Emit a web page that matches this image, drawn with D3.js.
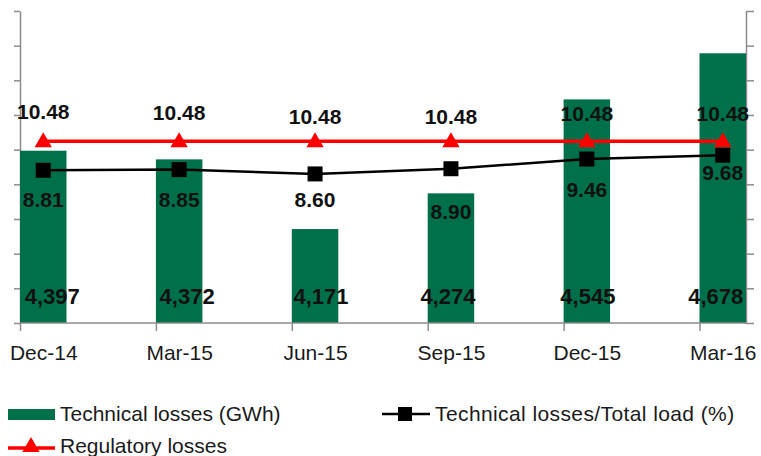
<!DOCTYPE html>
<html>
<head>
<meta charset="utf-8">
<script src="https://cdn.jsdelivr.net/npm/d3@7"></script>
<style>
  html, body { margin: 0; padding: 0; background: #fff; }
  svg { display: block; }
  text { font-family: "Liberation Sans", Arial, sans-serif; }
</style>
</head>
<body>
<svg id="chart" width="761" height="456"></svg>
<script>
// Quarterly figures
const quarters = ["Dec-14", "Mar-15", "Jun-15", "Sep-15", "Dec-15", "Mar-16"];
const technicalLossesGWh = [4397, 4372, 4171, 4274, 4545, 4678];
const lossShareOfLoad = [8.81, 8.85, 8.60, 8.90, 9.46, 9.68];
const regulatoryLosses = [10.48, 10.48, 10.48, 10.48, 10.48, 10.48];

// Axis tick values (no printed labels on the value axes)
const leftTicks = d3.range(3900, 4801, 100);
const rightTicks = d3.range(0, 19, 2);

// Label nudges (px) so that value labels sit clear of the marks
const barLabelDx = [9, 8, 6, -3, 1, -7];
const shareLabelDy = [37, 37, 33, 50, 38, 25];
const regLabelDy = [-22, -21, -17, -17, -20, -20];

const svg = d3.select("#chart");
const plot = { left: 20, right: 746, top: 11, bottom: 323 };
const barW = 46.5;
const axisColor = "#8c8c8c";
const green = "#00704a";
const labelFont = "'Liberation Sans', Arial, sans-serif";

const x = d3.scalePoint().domain(quarters)
  .range([plot.left + barW / 2, plot.right - barW / 2]);
const yLeft = d3.scaleLinear().domain([3900, 4800]).range([plot.bottom, plot.top]);
const yRight = d3.scaleLinear().domain([0, 18]).range([plot.bottom, plot.top]);

// Value axes
const gl = svg.append("g").attr("transform", `translate(${plot.left},0)`)
  .call(d3.axisLeft(yLeft).tickValues(leftTicks).tickFormat("").tickSizeInner(6).tickSizeOuter(0));
const gr = svg.append("g").attr("transform", `translate(${plot.right},0)`)
  .call(d3.axisRight(yRight).tickValues(rightTicks).tickFormat("").tickSizeInner(8).tickSizeOuter(0));
[gl, gr].forEach(g => {
  g.selectAll("path, line").attr("stroke", axisColor).attr("stroke-width", 1.5);
});

// Bars
svg.append("g").selectAll("rect").data(quarters).join("rect")
  .attr("x", d => x(d) - barW / 2)
  .attr("width", barW)
  .attr("y", (d, i) => yLeft(technicalLossesGWh[i]))
  .attr("height", (d, i) => plot.bottom - yLeft(technicalLossesGWh[i]))
  .attr("fill", green);

// Category axis: ticks at the left edge of each bar
const xEdge = d3.scalePoint().domain(quarters).range([plot.left, plot.right - barW]);
const gx = svg.append("g").attr("transform", `translate(0,${plot.bottom})`)
  .call(d3.axisBottom(xEdge).tickFormat("").tickSizeInner(8).tickSizeOuter(0));
gx.select(".domain").remove();
gx.selectAll("line").attr("stroke", axisColor).attr("stroke-width", 1.5);
svg.append("line")
  .attr("x1", plot.left).attr("x2", plot.right)
  .attr("y1", plot.bottom).attr("y2", plot.bottom)
  .attr("stroke", axisColor).attr("stroke-width", 1.5);

const gxl = svg.append("g").attr("transform", `translate(0,${plot.bottom})`)
  .call(d3.axisBottom(x).tickSize(0).tickPadding(0));
gxl.select(".domain").remove();
gxl.selectAll("text")
  .attr("y", 37).attr("dy", 0)
  .attr("fill", "#1a1a1a")
  .style("font-size", "21px")
  .style("font-family", labelFont);

// Loss share line with square markers
const shareLine = d3.line().x((d, i) => x(quarters[i])).y(d => yRight(d));
svg.append("path").datum(lossShareOfLoad)
  .attr("d", shareLine).attr("fill", "none")
  .attr("stroke", "#000").attr("stroke-width", 2.5);
svg.append("g").selectAll("rect").data(lossShareOfLoad).join("rect")
  .attr("x", (d, i) => x(quarters[i]) - 7.5)
  .attr("y", d => yRight(d) - 7.5)
  .attr("width", 15).attr("height", 15)
  .attr("fill", "#000");

// Regulatory losses line with triangle markers
const regLine = d3.line().x((d, i) => x(quarters[i])).y(d => yRight(d));
svg.append("path").datum(regulatoryLosses)
  .attr("d", regLine).attr("fill", "none")
  .attr("stroke", "#ff0000").attr("stroke-width", 3.5);
const tri = d3.symbol().type(d3.symbolTriangle).size(130);
svg.append("g").selectAll("path").data(regulatoryLosses).join("path")
  .attr("transform", (d, i) => `translate(${x(quarters[i])},${yRight(d) + 1})`)
  .attr("d", tri)
  .attr("fill", "#ff0000");

// Value labels
const fmtGWh = d3.format(",");
svg.append("g").selectAll("text").data(technicalLossesGWh).join("text")
  .attr("x", (d, i) => x(quarters[i]) + barLabelDx[i])
  .attr("y", 304)
  .attr("text-anchor", "middle")
  .style("font-family", labelFont).style("font-weight", "bold").style("font-size", "22px")
  .attr("fill", "#111")
  .text(d => fmtGWh(d));
svg.append("g").selectAll("text").data(lossShareOfLoad).join("text")
  .attr("x", (d, i) => x(quarters[i]))
  .attr("y", (d, i) => yRight(d) + shareLabelDy[i])
  .attr("text-anchor", "middle")
  .style("font-family", labelFont).style("font-weight", "bold").style("font-size", "21px")
  .attr("fill", "#111")
  .text(d => d.toFixed(2));
svg.append("g").selectAll("text").data(regulatoryLosses).join("text")
  .attr("x", (d, i) => x(quarters[i]))
  .attr("y", (d, i) => yRight(d) + regLabelDy[i])
  .attr("text-anchor", "middle")
  .style("font-family", labelFont).style("font-weight", "bold").style("font-size", "21px")
  .attr("fill", "#111")
  .text(d => d.toFixed(2));

// Legend
const legend = svg.append("g").style("font-family", labelFont).style("font-size", "21px");
legend.append("rect").attr("x", 8).attr("y", 409).attr("width", 47).attr("height", 11).attr("fill", green);
legend.append("text").attr("x", 60).attr("y", 421).attr("fill", "#1a1a1a").text("Technical losses (GWh)");

legend.append("line").attr("x1", 382).attr("x2", 430).attr("y1", 414).attr("y2", 414)
  .attr("stroke", "#000").attr("stroke-width", 2.5);
legend.append("rect").attr("x", 398).attr("y", 407).attr("width", 14).attr("height", 14).attr("fill", "#000");
legend.append("text").attr("x", 435).attr("y", 421).attr("fill", "#1a1a1a")
  .style("letter-spacing", "0.4px").text("Technical losses/Total load (%)");

legend.append("line").attr("x1", 8).attr("x2", 55).attr("y1", 448).attr("y2", 448)
  .attr("stroke", "#ff0000").attr("stroke-width", 3.5);
legend.append("path").attr("transform", "translate(31,447)").attr("d", tri).attr("fill", "#ff0000");
legend.append("text").attr("x", 60).attr("y", 453).attr("fill", "#1a1a1a").text("Regulatory losses");
</script>
</body>
</html>
